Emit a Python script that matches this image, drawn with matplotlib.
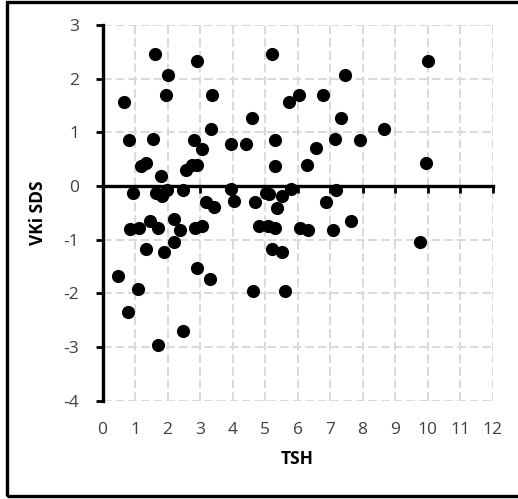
"""
TSH ile VKİ SDS arasındaki ilişki — saçılım grafiği.
"""

import matplotlib
matplotlib.use("Agg")
import matplotlib.pyplot as plt
from matplotlib.patches import Rectangle

# ============ veri ============
TSH = [
    1.61, 2.91, 2.00, 0.66, 1.94, 3.37, 3.33, 0.82, 1.56, 2.82,
    3.95, 4.42, 3.06, 1.18, 1.35, 1.81, 2.56, 2.74, 2.92,
    5.20, 7.46, 6.04, 5.74, 6.77, 4.60, 7.33, 5.30, 7.15, 6.58,
    5.30, 6.28, 10.01, 8.66, 7.91, 9.94,
    0.94, 1.63, 1.83, 1.97, 2.48, 3.94, 4.04, 4.69, 3.17, 3.42,
    0.83, 1.11, 1.45, 1.70, 2.19, 2.39, 2.83, 3.07, 4.80,
    1.35, 1.90, 2.21, 0.46, 2.91, 3.30, 1.10, 0.77, 2.46, 1.72,
    5.04, 5.12, 5.51, 5.80, 5.37, 6.87, 7.17,
    5.10, 5.30, 6.07, 6.33, 7.10, 7.64, 9.78,
    5.20, 5.51, 4.63, 5.61,
]
VKI_SDS = [
    2.45, 2.32, 2.06, 1.56, 1.69, 1.69, 1.07, 0.86, 0.87, 0.86,
    0.79, 0.79, 0.68, 0.37, 0.42, 0.19, 0.30, 0.39, 0.39,
    2.45, 2.06, 1.69, 1.56, 1.69, 1.27, 1.27, 0.86, 0.88, 0.70,
    0.37, 0.39, 2.32, 1.07, 0.86, 0.42,
    -0.14, -0.14, -0.19, -0.07, -0.08, -0.06, -0.28, -0.30, -0.30, -0.40,
    -0.81, -0.78, -0.66, -0.78, -0.62, -0.82, -0.78, -0.74, -0.74,
    -1.18, -1.23, -1.04, -1.68, -1.52, -1.73, -1.92, -2.34, -2.71, -2.97,
    -0.14, -0.15, -0.18, -0.06, -0.41, -0.30, -0.08,
    -0.74, -0.79, -0.78, -0.82, -0.82, -0.66, -1.05,
    -1.18, -1.23, -1.95, -1.95,
]
X_TICKS = list(range(0, 13))
Y_TICKS = list(range(-4, 4))
X_LABEL = "TSH"
Y_LABEL = "VKi SDS"

plt.rcParams["font.family"] = ["Open Sans", "DejaVu Sans"]
plt.rcParams["axes.unicode_minus"] = False
TICK_COLOR = "#404040"
GRID_COLOR = "#d9d9d9"

fig = plt.figure(figsize=(5.18, 4.99), dpi=100)
ax = fig.add_axes([0.198, 0.197, 0.753, 0.753])

ax.scatter(TSH, VKI_SDS, s=90, color="black", zorder=3, linewidths=0)

ax.set_xlim(0, 12)
ax.set_ylim(-4, 3)
ax.set_xticks(X_TICKS)
ax.set_yticks(Y_TICKS)

# kesikli ızgara
ax.grid(True, color=GRID_COLOR, ls=(0, (4.5, 2)), lw=1.4, zorder=0)

# eksenler: sol dikey ve y=0'da yatay
for side in ("top", "right"):
    ax.spines[side].set_visible(False)
ax.spines["left"].set_linewidth(2.4)
ax.spines["bottom"].set_position(("data", 0))
ax.spines["bottom"].set_linewidth(2.4)
ax.spines["bottom"].set_zorder(2)
ax.tick_params(axis="y", direction="out", length=5, width=2, labelsize=12.5,
               labelcolor=TICK_COLOR, pad=12)
ax.tick_params(axis="x", direction="out", length=5, width=2, labelbottom=False)

# x etiketleri grafiğin altında
sec = ax.secondary_xaxis("bottom")
sec.set_xticks(X_TICKS)
sec.spines["bottom"].set_visible(False)
sec.tick_params(length=0, labelsize=12.5, labelcolor=TICK_COLOR, pad=15)
sec.set_xlabel(X_LABEL, fontsize=12.5, fontweight="bold", labelpad=9)

ax.set_ylabel(Y_LABEL, fontsize=12.5, fontweight="bold", labelpad=12)

# dış çerçeve
fig.patches.append(Rectangle((0.0135, 0.006), 1.0, 0.99, transform=fig.transFigure,
                             fill=False, lw=2.4, edgecolor="black"))

fig.savefig("out.png", dpi=100)
plt.close(fig)
